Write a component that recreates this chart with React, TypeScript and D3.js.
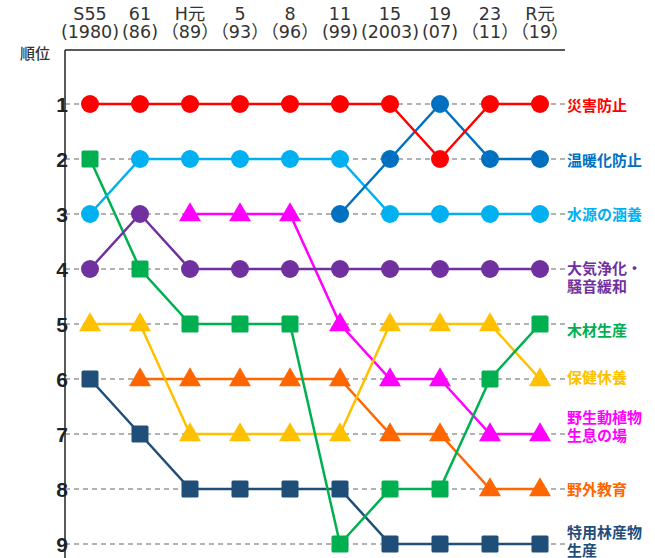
import React from "react";
import * as d3 from "d3";

const years = ["S55", "61", "H元", "5", "8", "11", "15", "19", "23", "R元"];
const yearSub = ["(1980)", "(86)", "（89）", "（93）", "（96）", "(99)", "(2003)", "(07)", "（11）", "（19）"];
const ranks = [1, 2, 3, 4, 5, 6, 7, 8, 9];

type Series = { name: string[]; color: string; shape: string; values: (number | null)[]; shift: number };

const saigai = [1, 1, 1, 1, 1, 1, 1, 2, 1, 1];
const ondanka = [null, null, null, null, null, 3, 2, 1, 2, 2];
const suigen = [3, 2, 2, 2, 2, 2, 3, 3, 3, 3];
const taiki = [4, 3, 4, 4, 4, 4, 4, 4, 4, 4];
const mokuzai = [2, 4, 5, 5, 5, 9, 8, 8, 6, 5];
const hoken = [5, 5, 7, 7, 7, 7, 5, 5, 5, 6];
const yasei = [null, null, 3, 3, 3, 5, 6, 6, 7, 7];
const yagai = [null, 6, 6, 6, 6, 6, 7, 7, 8, 8];
const tokuyou = [6, 7, 8, 8, 8, 8, 9, 9, 9, 9];

// shift: vertical offset of the right-hand label block from its rank line
const series: Series[] = [
  { name: ["特用林産物", "生産"], color: "#1F4E79", shape: "square", values: tokuyou, shift: -2 },
  { name: ["野外教育"], color: "#FF6600", shape: "triangle", values: yagai, shift: 1 },
  { name: ["野生動植物", "生息の場"], color: "#FF00FF", shape: "triangle", values: yasei, shift: -7 },
  { name: ["保健休養"], color: "#FFC000", shape: "triangle", values: hoken, shift: -1 },
  { name: ["木材生産"], color: "#00B050", shape: "square", values: mokuzai, shift: 7 },
  { name: ["大気浄化・", "騒音緩和"], color: "#7030A0", shape: "circle", values: taiki, shift: 9 },
  { name: ["水源の涵養"], color: "#00B0F0", shape: "circle", values: suigen, shift: 1 },
  { name: ["温暖化防止"], color: "#0070C0", shape: "circle", values: ondanka, shift: 2 },
  { name: ["災害防止"], color: "#FF0000", shape: "circle", values: saigai, shift: 2 },
];

const W = 655;
const H = 558;
const plotLeft = 65;
const plotRight = 565;
const plotTop = 50;

const x = d3.scalePoint<string>().domain(years).range([90, 540]);
const y = d3.scaleLinear().domain([1, 9]).range([104, 544]);

const jp = "'Noto Sans CJK JP', 'Noto Sans', sans-serif";
const head = "'DejaVu Sans', 'Noto Sans CJK JP', sans-serif";

function Marker({ shape, cx, cy, color }: { shape: string; cx: number; cy: number; color: string }) {
  if (shape === "circle") return <circle cx={cx} cy={cy} r={9} fill={color} />;
  if (shape === "square")
    return <rect x={cx - 8.5} y={cy - 8.5} width={17} height={17} rx={1.5} fill={color} />;
  const tri = d3.symbol(d3.symbolTriangle, 210)();
  return <path d={tri || ""} transform={`translate(${cx},${cy + 1})`} fill={color} />;
}

export default function App() {
  const line = d3
    .line<number | null>()
    .defined((d) => d != null)
    .x((_, i) => x(years[i]) as number)
    .y((d) => y(d as number));

  return (
    <svg width={W} height={H} style={{ position: "absolute", left: 0, top: 0, background: "#fff" }}>
      {/* grid */}
      {ranks.map((r) => (
        <line key={r} x1={plotLeft} x2={plotRight} y1={y(r)} y2={y(r)} stroke="#999" strokeWidth={1.5} strokeDasharray="5,4" />
      ))}
      <line x1={plotLeft} x2={plotRight} y1={plotTop} y2={plotTop} stroke="#222" strokeWidth={1.5} />
      <line x1={plotLeft} x2={plotLeft} y1={plotTop} y2={H} stroke="#222" strokeWidth={1.5} />

      {/* column labels */}
      {years.map((yr, i) => (
        <g key={yr} fontFamily={head} fontSize={17.5} fill="#333" textAnchor="middle">
          <text x={x(yr)} y={20}>{yr}</text>
          <text x={x(yr)} y={38}>{yearSub[i]}</text>
        </g>
      ))}
      <text x={35} y={59} fontFamily={jp} fontSize={15} fontWeight={500} fill="#333" textAnchor="middle">順位</text>
      {ranks.map((r) => (
        <text key={r} x={62} y={y(r)} dy="0.36em" textAnchor="middle" fontFamily="'Liberation Sans', Arial, sans-serif" fontWeight="bold" fontSize={21} fill="#222">
          {r}
        </text>
      ))}

      {/* series */}
      {series.map((s) => (
        <g key={s.name.join("")}>
          <path d={line(s.values) || ""} fill="none" stroke={s.color} strokeWidth={2.5} />
          {s.values.map((v, i) =>
            v == null ? null : <Marker key={i} shape={s.shape} cx={x(years[i]) as number} cy={y(v)} color={s.color} />
          )}
          {(() => {
            const last = s.values[s.values.length - 1] as number;
            const n = s.name.length;
            return (
              <text fontFamily={jp} fontSize={15} fontWeight="bold" fill={s.color}>
                {s.name.map((t, k) => (
                  <tspan key={k} x={567} y={y(last) + s.shift + (k - (n - 1) / 2) * 18} dy="0.36em">
                    {t}
                  </tspan>
                ))}
              </text>
            );
          })()}
        </g>
      ))}
    </svg>
  );
}
